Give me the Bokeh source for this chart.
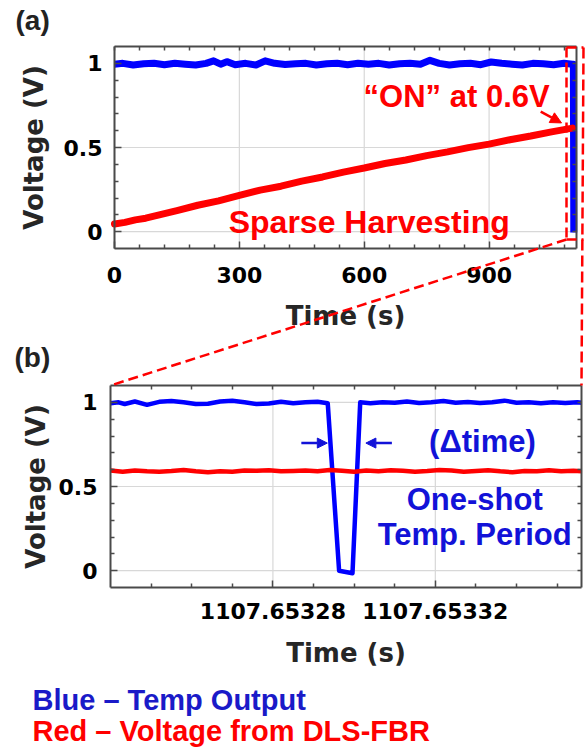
import math
from bokeh.plotting import figure
from bokeh.models import (Range1d, FixedTicker, LinearAxis, Label, Arrow,
                          NormalHead, BasicTickFormatter)
from bokeh.embed import file_html
from bokeh.resources import INLINE

# ---------------- data: panel (a) ----------------
blue_a_t = [0, 20, 45, 70, 95, 120, 145, 170, 195, 220, 238, 255, 270, 290, 315,
            340, 362, 385, 410, 435, 460, 485, 510, 535, 560, 585, 610, 635, 660,
            685, 710, 735, 758, 780, 805, 830, 855, 880, 905, 930, 955, 980, 1005,
            1030, 1055, 1080, 1100, 1102.5, 1103.5]
blue_a_v = [0.995, 1.0, 0.99, 0.998, 1.0, 0.992, 1.0, 0.995, 0.99, 1.0, 1.015,
            0.995, 1.01, 0.992, 1.0, 0.99, 1.015, 1.0, 0.993, 0.998, 1.0, 0.99,
            0.997, 1.0, 0.992, 1.0, 0.995, 1.0, 0.99, 0.998, 1.0, 0.995, 1.018,
            1.0, 0.99, 0.998, 1.0, 0.992, 1.008, 1.0, 0.995, 0.99, 1.0, 0.997,
            0.992, 1.0, 0.995, 0.995, -0.005]
red_a_t = [0, 25, 50, 75, 100, 150, 200, 250, 300, 350, 400, 450, 500, 550, 600,
           650, 700, 750, 800, 850, 900, 950, 1000, 1050, 1100]
red_a_v = [0.046, 0.055, 0.07, 0.08, 0.095, 0.125, 0.157, 0.183, 0.215, 0.247,
           0.27, 0.3, 0.325, 0.354, 0.378, 0.405, 0.426, 0.452, 0.474, 0.499,
           0.52, 0.546, 0.568, 0.593, 0.615]
a_xticks = [0, 300, 600, 900]
a_xminor = [60, 120, 180, 240, 360, 420, 480, 540, 660, 720, 780, 840, 960,
            1020, 1080]
v_ticks = [0, 0.5, 1]
v_minor = [0.1, 0.2, 0.3, 0.4, 0.6, 0.7, 0.8, 0.9]
v_labels = {0: "0", 0.5: "0.5", 1: "1"}

# ---------------- data: panel (b) ----------------
T0_B = 1107.65324          # left end of panel (b) time axis, s
T1_B = 1107.653356         # right end of panel (b) time axis, s
blue_b_us = [0, 2, 3.5, 6, 9, 12, 15, 18, 21, 24, 27, 30, 33, 36, 39, 42, 45, 48,
             51, 53.5, 56.3, 59.6, 61.5, 64, 67, 70, 73, 76, 79, 82, 85, 88, 91,
             94, 97, 100, 103, 106, 109, 112, 115, 116]
blue_b_v = [0.995, 1.0, 0.99, 1.005, 0.985, 1.003, 1.008, 1.0, 0.99, 0.992,
            1.005, 1.01, 1.0, 0.99, 0.993, 1.003, 0.995, 1.0, 1.003, 0.995, 0.0,
            -0.015, 1.0, 0.995, 1.0, 0.998, 1.005, 0.996, 1.0, 1.008, 0.998,
            1.002, 0.996, 1.0, 1.01, 0.998, 1.0, 0.995, 1.0, 0.996, 1.0, 0.997]
red_b_us = [0, 3, 6, 9, 12, 15, 18, 21, 24, 27, 30, 33, 36, 39, 42, 45, 48, 51,
            54, 57, 60, 63, 66, 69, 72, 75, 78, 81, 84, 87, 90, 93, 96, 99, 102,
            105, 108, 111, 114, 116]
red_b_v = [0.595, 0.588, 0.595, 0.59, 0.588, 0.592, 0.598, 0.59, 0.585, 0.59,
           0.588, 0.595, 0.593, 0.597, 0.59, 0.592, 0.595, 0.59, 0.598, 0.593,
           0.588, 0.595, 0.59, 0.597, 0.593, 0.588, 0.592, 0.598, 0.595, 0.588,
           0.592, 0.597, 0.59, 0.585, 0.592, 0.59, 0.597, 0.59, 0.593, 0.59]
b_xticks = [1107.65328, 1107.65332]
b_xminor = [1107.65325, 1107.65326, 1107.65327, 1107.65329, 1107.6533,
            1107.65331, 1107.65333, 1107.65334, 1107.65335]

blue_b_t = [T0_B + u * 1e-6 for u in blue_b_us]
red_b_t = [T0_B + u * 1e-6 for u in red_b_us]

# ---------------- styling / layout ----------------
BLUE, RED = "#0000ff", "#ff0000"
BLUE_TXT = "#1212d8"
FRAME = "#4a4a4a"
GRID = "#d8d8d8"
W, H = 586, 754
# panel frames in page pixels: (left, right, top, bottom)
FA = (114, 576, 46, 248)
FB = (110, 581, 385, 587)
XA, YA = (0, 1110), (-0.1, 1.1)
XB, YB = (T0_B, T1_B), (-0.1, 1.1)
PX_PER_V = (FA[3] - FA[2]) / (YA[1] - YA[0])
BASE_SHIFT = 0.37          # text baseline correction, fraction of font size


def ranges_for(frame, xr, yr):
    l, r, t, b = frame
    kx = (xr[1] - xr[0]) / (r - l)
    ky = (yr[1] - yr[0]) / (b - t)
    return (Range1d(xr[0] - l * kx, xr[1] + (W - r) * kx),
            Range1d(yr[0] - (H - b) * ky, yr[1] + t * ky))


xa_rng, ya_rng = ranges_for(FA, XA, YA)
xb_rng, yb_rng = ranges_for(FB, XB, YB)

# one canvas; default ranges are page pixels (y downward)
p = figure(width=W, height=H, output_backend="svg", toolbar_location=None,
           x_range=Range1d(0, W), y_range=Range1d(H, 0),
           x_axis_location=None, y_axis_location=None, min_border=0)
p.extra_x_ranges = {"xa": xa_rng, "xb": xb_rng}
p.extra_y_ranges = {"ya": ya_rng, "yb": yb_rng}
p.outline_line_color = None
p.grid.visible = False
p.background_fill_color = "white"
p.border_fill_color = "white"


def panel_axes(xn, yn, xb, yb, xticks, xminor, yticks, yminor, xfmt,
               xstand, ystand):
    common = dict(x_range_name=xn, y_range_name=yn)
    bottom = LinearAxis(fixed_location=yb[0], bounds=xb,
                        ticker=FixedTicker(ticks=xticks, minor_ticks=xminor), **common)
    top = LinearAxis(fixed_location=yb[1], bounds=xb,
                     ticker=FixedTicker(ticks=[], minor_ticks=sorted(xticks + xminor)),
                     **common)
    left = LinearAxis(fixed_location=xb[0], bounds=yb,
                      ticker=FixedTicker(ticks=yticks, minor_ticks=yminor), **common)
    right = LinearAxis(fixed_location=xb[1], bounds=yb,
                       ticker=FixedTicker(ticks=[], minor_ticks=sorted(yticks + yminor)),
                       **common)
    if xfmt is not None:
        bottom.formatter = xfmt
    left.major_label_overrides = v_labels
    for ax in (bottom, top, left, right):
        ax.major_tick_in = 7
        ax.major_tick_out = 0
        ax.minor_tick_in = 4
        ax.minor_tick_out = 0
        ax.axis_line_color = FRAME
        ax.axis_line_width = 2
        ax.major_tick_line_color = FRAME
        ax.minor_tick_line_color = FRAME
        ax.major_tick_line_width = 1.5
        ax.minor_tick_line_width = 1.5
    for ax in (bottom, left):
        ax.major_label_text_font = "DejaVu Sans"
        ax.major_label_text_font_style = "bold"
        ax.major_label_text_font_size = "22px"
        ax.major_label_text_color = "#000000"
    bottom.major_label_standoff = xstand
    left.major_label_standoff = ystand
    p.add_layout(bottom, "below")
    p.add_layout(top, "above")
    p.add_layout(left, "left")
    p.add_layout(right, "right")
    # grid lines at the major ticks, limited to the panel
    p.segment(x0=xticks, y0=[yb[0]] * len(xticks), x1=xticks, y1=[yb[1]] * len(xticks),
              line_color=GRID, line_width=1.2, **common)
    p.segment(x0=[xb[0]] * len(yticks), y0=yticks, x1=[xb[1]] * len(yticks), y1=yticks,
              line_color=GRID, line_width=1.2, **common)


def label(x, y, text, color, size, align="left", font="Liberation Sans",
          rotated=False, panel=None):
    off = BASE_SHIFT * size
    if panel is None:                      # page pixels, y downward
        xn = yn = "default"
        if rotated:
            x -= off
        else:
            y -= off
    else:                                  # panel data units
        xn, yn = panel
        y += off / PX_PER_V
    p.add_layout(Label(x=x, y=y, text=text, text_color=color,
                       x_range_name=xn, y_range_name=yn,
                       angle=math.pi / 2 if rotated else 0.0,
                       text_font=font, text_font_style="bold",
                       text_font_size=f"{size}px", text_align=align,
                       text_baseline="alphabetic"))


def seg(p0, p1, dash="10 5"):
    p.add_layout(Arrow(x_start=p0[0], y_start=p0[1], x_end=p1[0], y_end=p1[1],
                       end=None, line_color=RED, line_width=2.5, line_dash=dash))


# ---------------- panel (a) ----------------
panel_axes("xa", "ya", XA, YA, a_xticks, a_xminor, v_ticks, v_minor, None, 18, 12)
p.line(blue_a_t, blue_a_v, line_color=BLUE, line_width=7, line_join="round",
       x_range_name="xa", y_range_name="ya")
p.line(red_a_t, red_a_v, line_color=RED, line_width=7, line_join="round",
       line_cap="round", x_range_name="xa", y_range_name="ya")
label(822, 0.733, "\u201cON\u201d at 0.6V", RED, 31, "center", panel=("xa", "ya"))
label(612, -0.01, "Sparse Harvesting", RED, 32, "center", panel=("xa", "ya"))
p.add_layout(Arrow(x_start=1024, y_start=0.713, x_end=1074, y_end=0.646,
                   x_range_name="xa", y_range_name="ya",
                   end=NormalHead(size=11, fill_color=RED, line_color=RED),
                   line_color=RED, line_width=2.5))

# ---------------- panel (b) ----------------
panel_axes("xb", "yb", XB, YB, b_xticks, b_xminor, v_ticks, v_minor,
           BasicTickFormatter(precision=5, use_scientific=False), 15, 13)
p.line(blue_b_t, blue_b_v, line_color=BLUE, line_width=4.5, line_join="round",
       x_range_name="xb", y_range_name="yb")
p.line(red_b_t, red_b_v, line_color=RED, line_width=4.5, line_join="round",
       x_range_name="xb", y_range_name="yb")
for xs, xe in ((47.0, 53.4), (69.3, 62.9)):
    p.add_layout(Arrow(x_start=T0_B + xs * 1e-6, y_start=0.758,
                       x_end=T0_B + xe * 1e-6, y_end=0.758,
                       x_range_name="xb", y_range_name="yb",
                       end=NormalHead(size=10, fill_color=BLUE_TXT, line_color=BLUE_TXT),
                       line_color=BLUE_TXT, line_width=2.5))
label(T0_B + 91.6e-6, 0.70, "(\u0394time)", BLUE_TXT, 31, "center", panel=("xb", "yb"))
label(T0_B + 89.7e-6, 0.354, "One-shot", BLUE_TXT, 31, "center", panel=("xb", "yb"))
label(T0_B + 89.7e-6, 0.145, "Temp. Period", BLUE_TXT, 31, "center", panel=("xb", "yb"))

# ---------------- axis titles, panel letters, legend text (page pixels) ----------------
AX_FONT, AX_SIZE, AX_COL = "DejaVu Sans", 26, "#262626"
label((FA[0] + FA[1]) / 2, 325, "Time (s)", AX_COL, AX_SIZE, "center", AX_FONT)
label((FB[0] + FB[1]) / 2, 662, "Time (s)", AX_COL, AX_SIZE, "center", AX_FONT)
label(43, (FA[2] + FA[3]) / 2, "Voltage (V)", AX_COL, AX_SIZE, "center", AX_FONT,
      rotated=True)
label(45, (FB[2] + FB[3]) / 2, "Voltage (V)", AX_COL, AX_SIZE, "center", AX_FONT,
      rotated=True)
label(15, 30, "(a)", "#222222", 28)
label(14, 367, "(b)", "#222222", 28)
label(32, 710, "Blue \u2013 Temp Output", "#1a1ac8", 29)
label(32, 741, "Red \u2013 Voltage from DLS-FBR", RED, 29)

# ---------------- zoom box and connectors (page pixels) ----------------
RL, RR, RT, RBt = 566, 583, 47, 239
seg((RL, RT), (RR, RT))
seg((RL, RT), (RL, RBt))
seg((RL, RBt), (RR, RBt))
seg((RR, RT), (FB[1], FB[2]), dash="11 5")
seg((RL, RBt), (FB[0], FB[2]))

open("out.html", "w").write(file_html(p, INLINE))
